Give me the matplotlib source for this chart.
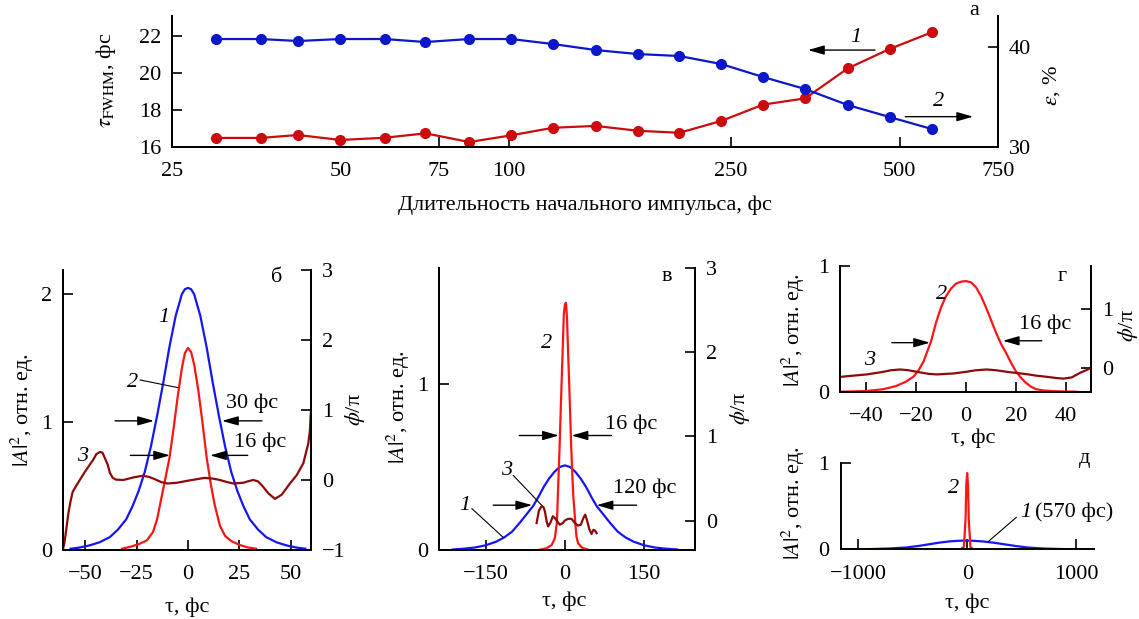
import matplotlib
matplotlib.use("Agg")
import matplotlib.pyplot as plt
from matplotlib.ticker import NullLocator

plt.rcParams["font.family"] = ["Liberation Serif", "DejaVu Serif"]
plt.rcParams["mathtext.fontset"] = "stix"
plt.rcParams["axes.unicode_minus"] = True

FS = 16

# ── цвета ────────────────────────────────────────────────
TOP_BLUE = "#0b17c9"
TOP_RED = "#cc0c0c"
BLUE = "#1515f5"
RED = "#ff1414"
DARK_RED = "#8c0a0a"

# ── (а) зависимость от длительности начального импульса ──
PULSE_FS = [30, 36, 42, 50, 60, 71, 85, 101, 120, 143, 170, 202, 240, 285, 339, 404, 480, 571]
TAU_FWHM = [16.49, 16.49, 16.65, 16.38, 16.50, 16.74, 16.27, 16.63, 17.04, 17.14,
            16.88, 16.77, 17.41, 18.29, 18.63, 20.25, 21.30, 22.20]
EFFICIENCY = [40.8, 40.8, 40.6, 40.8, 40.8, 40.5, 40.8, 40.8, 40.3, 39.7,
              39.3, 39.1, 38.3, 37.0, 35.8, 34.2, 33.0, 31.8]
TOP_XTICKS = [25, 50, 75, 100, 250, 500, 750]

# ── (б) импульс 30 фс ────────────────────────────────────
B_TAU_1 = [-57, -53, -48, -43, -38, -34, -30, -27, -24, -21, -18, -15, -12, -9, -6, -3, -1.5,
           0, 1.5, 3, 6, 9, 12, 15, 18, 21, 24, 27, 30, 34, 38, 43, 48, 53, 57]
B_AMP_1 = [0.01, 0.018, 0.035, 0.06, 0.10, 0.16, 0.24, 0.34, 0.46, 0.61, 0.81, 1.05, 1.31, 1.59,
           1.83, 2.00, 2.04, 2.05, 2.04, 2.00, 1.83, 1.59, 1.31, 1.05, 0.81, 0.61, 0.46, 0.34,
           0.24, 0.16, 0.10, 0.06, 0.035, 0.018, 0.01]
B_TAU_2 = [-32, -28, -24, -20, -17, -15, -13, -11, -9, -7, -5, -3, -1.5, 0, 1.5, 3, 5, 7, 9,
           11, 13, 15.5, 18, 21, 25, 29, 33]
B_AMP_2 = [0.01, 0.025, 0.045, 0.075, 0.14, 0.24, 0.40, 0.56, 0.72, 0.95, 1.20, 1.42, 1.54,
           1.58, 1.55, 1.45, 1.25, 1.00, 0.73, 0.52, 0.35, 0.19, 0.11, 0.07, 0.04, 0.02, 0.01]
B_TAU_3 = [-60.8, -60, -59, -58, -57, -56, -54, -50, -46, -44.5, -42.7, -41.5, -39, -37.9,
           -36.5, -35, -31.4, -26, -22, -19, -16.8, -13, -10, -5.5, 0, 3, 8, 12, 15.5, 19, 22,
           26.8, 29, 31.7, 34, 36, 39, 42.2, 45.5, 49.5, 52.8, 56, 58.4, 59.2, 59.7]
B_PHASE_3 = [-1.0, -0.9, -0.68, -0.46, -0.30, -0.17, -0.07, 0.12, 0.29, 0.37, 0.40, 0.39, 0.22,
             0.10, 0.03, 0.005, 0.0, 0.04, 0.06, 0.045, 0.02, -0.03, -0.05, -0.04, -0.01, 0.005,
             0.03, 0.02, 0.0, -0.03, -0.05, -0.04, -0.02, 0.0, -0.02, -0.08, -0.19, -0.27,
             -0.21, -0.05, 0.07, 0.24, 0.52, 0.71, 1.0]

# ── (в) импульс 120 фс ───────────────────────────────────
V_TAU_1 = [-212, -190, -170, -150, -130, -115, -100, -85, -70, -60, -50, -40, -30, -20, -10, 0,
           10, 20, 30, 40, 50, 60, 70, 85, 100, 115, 130, 150, 170, 190, 212]
V_AMP_1 = [0.003, 0.008, 0.015, 0.028, 0.05, 0.075, 0.11, 0.165, 0.225, 0.265, 0.32, 0.38, 0.43,
           0.47, 0.50, 0.51, 0.50, 0.47, 0.43, 0.38, 0.32, 0.265, 0.225, 0.165, 0.11, 0.075,
           0.05, 0.028, 0.015, 0.008, 0.003]
V_TAU_2 = [-50, -35, -25, -19, -15, -12.5, -10, -8, -6.3, -4, -2, 0, 2, 4, 6, 8.2, 10, 12, 14.5,
           16, 18, 20, 22, 25, 32, 40, 47]
V_AMP_2 = [0.0, 0.01, 0.03, 0.07, 0.17, 0.40, 0.62, 0.83, 1.0, 1.22, 1.42, 1.48, 1.49, 1.40,
           1.20, 1.0, 0.82, 0.62, 0.42, 0.32, 0.24, 0.15, 0.08, 0.04, 0.015, 0.005, 0.0]
V_TAU_3 = [-53.5, -49, -44, -40.5, -37.8, -34.5, -31.6, -27, -22.7, -19, -15.7, -9.5, -4, 0, 6,
           12.7, 18.9, 24.6, 30, 35, 38.5, 42, 46, 50.4, 54, 57, 60]
V_PHASE_3 = [-0.03, 0.12, 0.17, 0.16, 0.11, -0.01, -0.07, -0.02, 0.05, 0.03, 0.0, -0.05, -0.03,
             0.0, 0.02, 0.02, -0.03, -0.06, -0.05, 0.03, 0.07, 0.0, -0.10, -0.16, -0.11, -0.12,
             -0.15]

# ── (г) выходной импульс, крупно ─────────────────────────
G_TAU_2 = [-50, -40, -33, -28, -24, -21, -19, -17, -15.5, -14, -12, -10, -8, -6, -4, -2, 0, 2,
           4, 6, 8, 10, 12, 14, 16, 18, 20, 22, 24, 26, 28, 31, 35, 44]
G_AMP_2 = [0.0, 0.005, 0.02, 0.045, 0.08, 0.12, 0.17, 0.24, 0.32, 0.40, 0.55, 0.67, 0.76, 0.82,
           0.86, 0.875, 0.88, 0.87, 0.83, 0.76, 0.67, 0.57, 0.47, 0.38, 0.31, 0.23, 0.16, 0.11,
           0.07, 0.04, 0.02, 0.01, 0.004, 0.0]
G_TAU_3 = [-50, -45, -39.7, -33, -30, -26.4, -23, -19.7, -15, -11.7, -5, 0, 4, 8.3, 12, 16.3,
           20, 24.3, 28, 32.3, 36, 39, 42.3, 45.6, 48, 50]
G_PHASE_3 = [-0.14, -0.12, -0.10, -0.056, -0.03, -0.017, -0.03, -0.056, -0.09, -0.10, -0.084,
             -0.056, -0.03, -0.017, -0.03, -0.056, -0.075, -0.096, -0.12, -0.14, -0.16, -0.17,
             -0.15, -0.073, -0.03, 0.01]

# ── (д) импульс 570 фс ───────────────────────────────────
D_TAU_1 = [-1160, -900, -700, -550, -450, -350, -250, -150, -50, 0, 50, 150, 250, 350, 450, 550,
           700, 900, 1160]
D_AMP_1 = [0.0, 0.002, 0.01, 0.022, 0.038, 0.058, 0.078, 0.093, 0.10, 0.10, 0.099, 0.09, 0.075,
           0.056, 0.037, 0.021, 0.009, 0.002, 0.0]
D_TAU_2 = [-60, -30, -15, -8, 0, 8, 15, 30, 60]
D_AMP_2 = [0.0, 0.03, 0.35, 0.75, 0.88, 0.72, 0.33, 0.02, 0.0]


def style_axis(ax, right=True):
    ax.spines["top"].set_visible(False)
    if not right:
        ax.spines["right"].set_visible(False)
    for s in ax.spines.values():
        s.set_linewidth(1.4)
    ax.tick_params(direction="in", length=7.5, width=1.2, labelsize=FS)
    ax.tick_params(axis="x", pad=11)
    ax.tick_params(axis="y", pad=8)


def set_labels(ax, xlabel=None, xpos=None, ylabel=None, ypos=None):
    # подписи осей ставятся по центру текста
    if xlabel is not None:
        ax.set_xlabel(xlabel, fontsize=FS, va="center")
        ax.xaxis.set_label_coords(*xpos)
    if ylabel is not None:
        ax.set_ylabel(ylabel, fontsize=FS, va="center")
        ax.yaxis.set_label_coords(*ypos)


def h_arrow(ax, x_from, x_to, y):
    ax.annotate("", xy=(x_to, y), xytext=(x_from, y),
                arrowprops=dict(arrowstyle="-|>,head_length=0.7,head_width=0.2",
                                color="k", lw=1.0, shrinkA=0, shrinkB=0,
                                mutation_scale=14))


def leader(ax, x0, y0, x1, y1):
    ax.annotate("", xy=(x1, y1), xytext=(x0, y0),
                arrowprops=dict(arrowstyle="-", color="k", lw=0.8,
                                shrinkA=0, shrinkB=0))


def curve_num(ax, x, y, s, ha="center"):
    ax.text(x, y, s, fontsize=FS, fontstyle="italic", ha=ha, va="center")


A2_LABEL = r"$|A|^2$, отн. ед."
PHI_LABEL = r"$\phi$/π"

fig = plt.figure(figsize=(11.39, 6.19), dpi=100)

# ── (а) ──────────────────────────────────────────────────
ax = fig.add_axes([0.1510, 0.7625, 0.7252, 0.2116])
ax2 = ax.twinx()
ax.plot(PULSE_FS, TAU_FWHM, "-o", color=TOP_RED, lw=1.6, ms=7)
ax2.plot(PULSE_FS, EFFICIENCY, "-o", color=TOP_BLUE, lw=1.6, ms=7)
ax.set_xscale("log")
ax.set_xlim(25, 750)
ax.set_xticks(TOP_XTICKS)
ax.set_xticklabels([str(t) for t in TOP_XTICKS])
ax.xaxis.set_minor_locator(NullLocator())
ax.set_ylim(16, 23.08)
ax.set_yticks([16, 18, 20, 22])
ax2.set_ylim(30, 43.1)
ax2.set_yticks([30, 40])
style_axis(ax)
style_axis(ax2)
set_labels(ax, "Длительность начального импульса, фс", (0.5, -0.443),
           r"$\tau_{\rm FWHM}$, фс", (-0.080, 0.51))
set_labels(ax2, ylabel=r"$\varepsilon$, %", ypos=(1.065, 0.47))
h_arrow(ax, 452, 343, 21.24)
curve_num(ax, 417, 21.9, "1")
h_arrow(ax, 512, 677, 17.64)
curve_num(ax, 587, 18.45, "2")
ax.text(0.971, 1.046, "а", transform=ax.transAxes, fontsize=FS, ha="center", va="center")

# ── (б) ──────────────────────────────────────────────────
ax = fig.add_axes([0.0553, 0.1115, 0.2177, 0.4523])
ax2 = ax.twinx()
ax.plot(B_TAU_1, B_AMP_1, color=BLUE, lw=1.6)
ax.plot(B_TAU_2, B_AMP_2, color=RED, lw=1.6)
ax2.plot(B_TAU_3, B_PHASE_3, color=DARK_RED, lw=1.6)
ax.set_xlim(-60.7, 59.7)
ax.set_xticks([-50, -25, 0, 25, 50])
ax.set_ylim(0, 2.19)
ax.set_yticks([0, 1, 2])
ax2.set_ylim(-1, 3)
ax2.set_yticks([-1, 0, 1, 2, 3])
style_axis(ax)
style_axis(ax2)
set_labels(ax, "τ, фс", (0.5, -0.204), A2_LABEL, (-0.165, 0.5))
set_labels(ax2, ylabel=PHI_LABEL, ypos=(1.177, 0.5))
curve_num(ax, -12, 1.82, "1")
curve_num(ax, -26.7, 1.31, "2")
leader(ax, -23.3, 1.33, -4.9, 1.27)
curve_num(ax, -51, 0.73, "3")
ax.text(31, 1.15, "30 фс", fontsize=FS, ha="center", va="center")
h_arrow(ax, -35.4, -16.5, 1.01)
h_arrow(ax, 35.9, 16.5, 1.01)
ax.text(35, 0.84, "16 фс", fontsize=FS, ha="center", va="center")
h_arrow(ax, -28, -8.7, 0.74)
h_arrow(ax, 29, 10.7, 0.74)
ax.text(0.863, 0.975, "б", transform=ax.transAxes, fontsize=FS, ha="center", va="center")

# ── (в) ──────────────────────────────────────────────────
ax = fig.add_axes([0.3854, 0.1115, 0.2248, 0.4556])
ax2 = ax.twinx()
ax.plot(V_TAU_1, V_AMP_1, color=BLUE, lw=1.6)
ax.plot(V_TAU_2, V_AMP_2, color=RED, lw=1.6)
ax2.plot(V_TAU_3, V_PHASE_3, color=DARK_RED, lw=1.6)
ax.set_xlim(-238, 246)
ax.set_xticks([-150, 0, 150])
ax.set_ylim(0, 1.70)
ax.set_yticks([0, 1])
ax2.set_ylim(-0.35, 3)
ax2.set_yticks([0, 1, 2, 3])
style_axis(ax)
style_axis(ax2)
set_labels(ax, "τ, фс", (0.49, -0.183), A2_LABEL, (-0.16, 0.507))
set_labels(ax2, ylabel=PHI_LABEL, ypos=(1.176, 0.5))
curve_num(ax, -34.6, 1.245, "2")
curve_num(ax, -110, 0.48, "3")
leader(ax, -97.7, 0.45, -41, 0.26)
curve_num(ax, -189, 0.27, "1")
leader(ax, -176, 0.25, -116.6, 0.076)
ax.text(126, 0.76, "16 фс", fontsize=FS, ha="center", va="center")
h_arrow(ax, -86.4, -11.3, 0.69)
h_arrow(ax, 88, 12.6, 0.69)
ax.text(151, 0.37, "120 фс", fontsize=FS, ha="center", va="center")
h_arrow(ax, -135.5, -61.8, 0.27)
h_arrow(ax, 135.5, 60, 0.27)
ax.text(0.889, 0.969, "в", transform=ax.transAxes, fontsize=FS, ha="center", va="center")

# ── (г) ──────────────────────────────────────────────────
ax = fig.add_axes([0.7375, 0.3672, 0.2204, 0.2031])
ax2 = ax.twinx()
ax.plot(G_TAU_2, G_AMP_2, color=RED, lw=1.6)
ax2.plot(G_TAU_3, G_PHASE_3, color=DARK_RED, lw=1.6)
ax.set_xlim(-50.4, 50)
ax.set_xticks([-40, -20, 0, 20, 40])
ax.set_ylim(0, 1)
ax.set_yticks([0, 1])
ax2.set_ylim(-0.39, 1.72)
ax2.set_yticks([0, 1])
style_axis(ax)
style_axis(ax2)
set_labels(ax, "τ, фс", (0.53, -0.368), A2_LABEL, (-0.187, 0.49))
set_labels(ax2, ylabel=PHI_LABEL, ypos=(1.147, 0.53))
curve_num(ax, -9.7, 0.77, "2")
curve_num(ax, -38.4, 0.25, "3")
ax.text(31.6, 0.54, "16 фс", fontsize=FS, ha="center", va="center")
h_arrow(ax, -29.7, -14.4, 0.39)
h_arrow(ax, 30.3, 14.7, 0.405)
ax.text(0.883, 0.915, "г", transform=ax.transAxes, fontsize=FS, ha="center", va="center")

# ── (д) ──────────────────────────────────────────────────
ax = fig.add_axes([0.7381, 0.1126, 0.2224, 0.1399])
ax.plot(D_TAU_1, D_AMP_1, color=BLUE, lw=1.6)
ax.plot(D_TAU_2, D_AMP_2, color=RED, lw=1.6)
ax.set_xlim(-1159, 1162)
ax.set_xticks([-1000, 0, 1000])
ax.set_ylim(0, 1)
ax.set_yticks([0, 1])
style_axis(ax, right=False)
set_labels(ax, "τ, фс", (0.499, -0.62), A2_LABEL, (-0.188, 0.535))
curve_num(ax, -128, 0.70, "2")
curve_num(ax, 485, 0.43, "1", ha="left")
ax.text(625, 0.43, "(570 фс)", fontsize=FS, ha="left", va="center")
leader(ax, 451, 0.37, 192, 0.088)
ax.text(0.964, 1.05, "д", transform=ax.transAxes, fontsize=FS, ha="center", va="center")

fig.savefig("out.png", dpi=100)
